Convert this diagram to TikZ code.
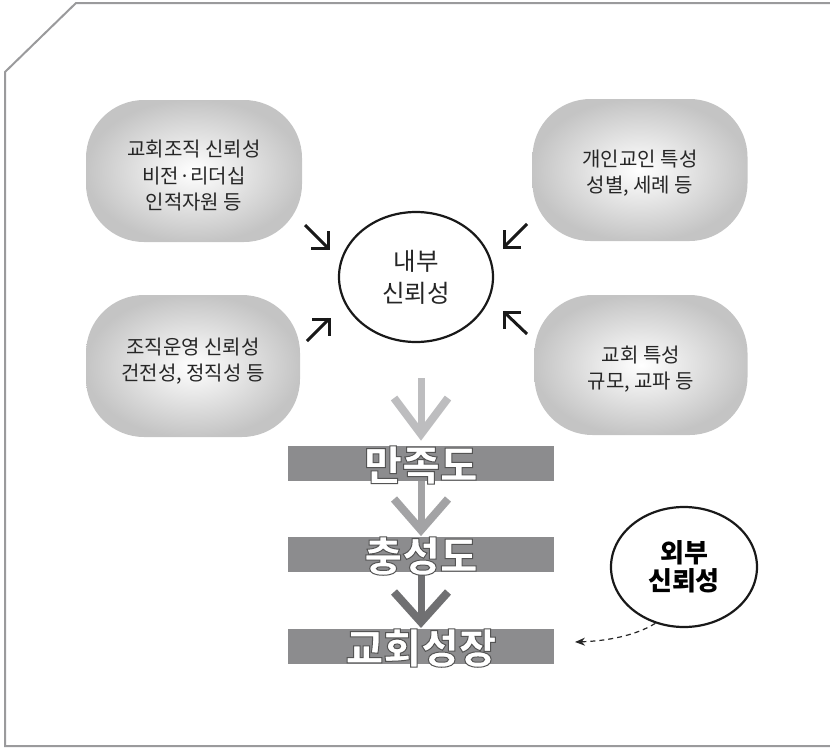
\documentclass[tikz,border=0pt]{standalone}
\usepackage{fontspec}
\setmainfont{Noto Sans CJK KR}
\usetikzlibrary{arrows.meta,shapes.geometric}
\definecolor{framegray}{HTML}{9A9A9C}
\definecolor{bargray}{HTML}{8C8C8E}
\definecolor{arrowA}{HTML}{BDBDBF}
\definecolor{arrowB}{HTML}{A3A3A5}
\definecolor{arrowC}{HTML}{707072}
\definecolor{txtdark}{HTML}{262626}
\tikzset{
  softbox/.style={rounded corners=58pt, shading=radial, inner color=white, outer color=gray!46, inner sep=0pt},
  boxtext/.style={text=txtdark, align=center, font=\fontsize{20}{26.5}\selectfont, inner sep=0pt},
  oval/.style={ellipse, draw=black!90, line width=2.2pt, align=center, inner sep=0pt},
  bar/.style={fill=bargray, inner sep=0pt, minimum width=266pt, minimum height=35pt},
  bartext/.style={font=\fontsize{41}{41}\bfseries, text=white, inner sep=0pt},
  smallarr/.style={line width=3pt, draw=black!90, line cap=butt, line join=miter},
  bigshaft/.style={line width=7pt, line cap=butt},
  bighead/.style={line width=8pt, line cap=butt, line join=miter, miter limit=10},
}
\newcommand{\outlinedtext}[1]{\special{pdf:literal direct 2 Tr 1 w 0.33 G}#1\special{pdf:literal direct 0 Tr}}
\begin{document}
\begin{tikzpicture}[x=1pt,y=-1pt]
\useasboundingbox (0,0) rectangle (830,747);
% frame
\draw[framegray, line width=2pt, line join=miter] (830,746) -- (5,746) -- (5,72) -- (76,3) -- (830,3);

% soft boxes
\node[softbox, minimum width=216pt, minimum height=142pt] (tl) at (194,171) {};
\node[boxtext] (tlt) at (194,176) {교회조직 신뢰성\\비전·리더십\\인적자원 등};
\node[softbox, minimum width=215pt, minimum height=142pt] (tr) at (640,170) {};
\node[boxtext] (trt) at (640,173) {개인교인 특성\\성별, 세례 등};
\node[softbox, minimum width=214pt, minimum height=142pt] (bl) at (193,366) {};
\node[boxtext] (blt) at (193,361) {조직운영 신뢰성\\건전성, 정직성 등};
\node[softbox, minimum width=213pt, minimum height=140pt] (br) at (641,365) {};
\node[boxtext] (brt) at (641,369) {교회 특성\\규모, 교파 등};

% inner trust ellipse
\node[oval, minimum width=154pt, minimum height=130pt, font=\fontsize{24.5}{32}\selectfont, text=txtdark] (inn) at (416,277) {내부\\신뢰성};

% small arrows toward the ellipse
\coordinate (s1a) at (305,225); \coordinate (s1b) at (328,248);
\draw[smallarr] (s1a) -- (s1b);
\draw[smallarr] (311,248) -- (s1b) -- (328,231);
\coordinate (s2a) at (527,224); \coordinate (s2b) at (504,247);
\draw[smallarr] (s2a) -- (s2b);
\draw[smallarr] (504,230) -- (s2b) -- (521,247);
\coordinate (s3a) at (307,341); \coordinate (s3b) at (329,319);
\draw[smallarr] (s3a) -- (s3b);
\draw[smallarr] (312,319) -- (s3b) -- (329,336);
\coordinate (s4a) at (527,334); \coordinate (s4b) at (504,312);
\draw[smallarr] (s4a) -- (s4b);
\draw[smallarr] (521,312) -- (s4b) -- (504,329);

% bars
\node[bar] (b1) at (421,463.5) {};
\node[bar] (b2) at (421,554.5) {};
\node[bar] (b3) at (421,646.5) {};

% big arrows
\coordinate (a1top) at (421,378);
\coordinate (a1tip) at (421,434);
\draw[arrowA, bigshaft] (a1top) -- (a1tip);
\draw[arrowA, bighead] (394,398) -- (a1tip) -- (448,398);
\coordinate (a2tip) at (421,530);
\draw[arrowB, bigshaft] (b1.south) -- (a2tip);
\draw[arrowB, bighead] (394,499) -- (a2tip) -- (448,499);
\coordinate (a3tip) at (421,622);
\draw[arrowC, bigshaft] (b2.south) -- (a3tip);
\draw[arrowC, bighead] (394,592) -- (a3tip) -- (448,592);

% bar labels
\node[bartext] (t1) at (421,465) {\outlinedtext{만족도}};
\node[bartext] (t2) at (421,556) {\outlinedtext{충성도}};
\node[bartext] (t3) at (421,648) {\outlinedtext{교회성장}};

% external trust
\node[oval, minimum width=146pt, minimum height=120pt, font=\fontsize{26}{28}\bfseries, text=black] (ext) at (684,567) {외부\\신뢰성};
\coordinate (dashend) at (575,642);
\draw[black!85, line width=1.2pt, dash pattern=on 5pt off 4pt, -{Stealth[length=10pt,width=8pt]}]
  (ext.243) .. controls (635,636) and (606,641) .. (dashend);
\end{tikzpicture}
\end{document}
